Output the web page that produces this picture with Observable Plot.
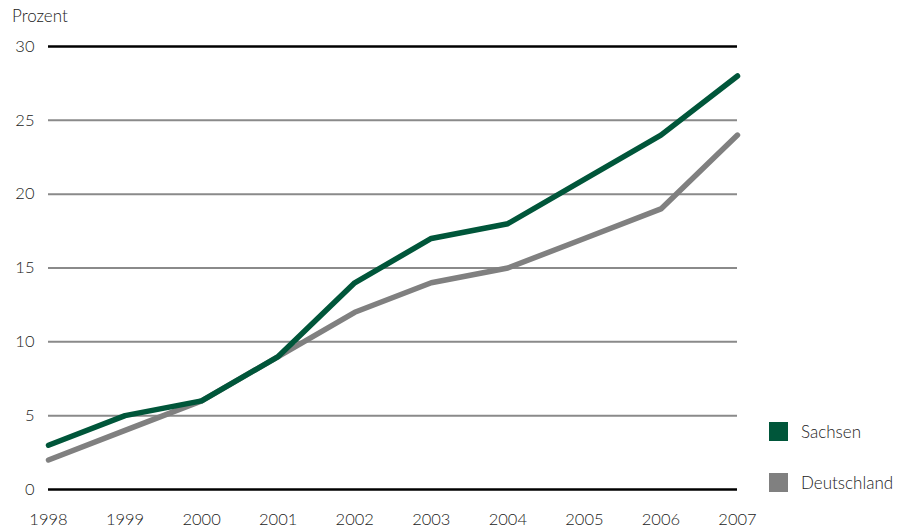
<!DOCTYPE html>
<html>
<head>
<meta charset="utf-8">
<script src="https://cdn.jsdelivr.net/npm/d3@7"></script>
<script src="https://cdn.jsdelivr.net/npm/@observablehq/plot@0.6"></script>
<style>
  html, body { margin: 0; padding: 0; background: #fff; }
  body { width: 897px; height: 528px; overflow: hidden; position: relative; font-family: Lato, "Open Sans", sans-serif; }
  #chart { position: absolute; left: 0; top: 0; }
  .ylab { position: absolute; left: 12px; top: 5px; font-size: 17px; color: #222; font-weight: 300; }
  .legend { position: absolute; left: 769px; font-size: 17px; color: #222; display: flex; align-items: center; font-weight: 300; }
  .legend .sw { width: 19px; height: 19px; margin-right: 13px; }
</style>
</head>
<body>
<div id="chart"></div>
<div class="ylab">Prozent</div>
<div id="leg"></div>
<script>
const years = [1998, 1999, 2000, 2001, 2002, 2003, 2004, 2005, 2006, 2007];
const sachsen = [3, 5, 6, 9, 14, 17, 18, 21, 24, 28];
const deutschland = [2, 4, 6, 9, 12, 14, 15, 17, 19, 24];
const seriesNames = ["Sachsen", "Deutschland"];
const seriesColors = ["#00563a", "#808080"];
const yTicks = [0, 5, 10, 15, 20, 25, 30];

const dS = years.map((y, i) => ({year: y, value: sachsen[i]}));
const dD = years.map((y, i) => ({year: y, value: deutschland[i]}));
const inner = yTicks.filter(t => t !== 0 && t !== 30);
const outer = [0, 30];

const chart = Plot.plot({
  width: 897,
  height: 528,
  marginLeft: 48,
  marginRight: 160,
  marginTop: 46,
  marginBottom: 39,
  style: {fontFamily: "Lato, 'Open Sans', sans-serif", fontSize: "16.5px", fontWeight: 300, color: "#222", background: "#fff"},
  x: {domain: [1998, 2007], ticks: years, tickFormat: d => String(d), tickSize: 0, tickPadding: 24, label: null},
  y: {domain: [0, 30], ticks: yTicks, tickSize: 0, tickPadding: 14, label: null},
  marks: [
    Plot.ruleY(inner, {stroke: "#8a8a8a", strokeWidth: 2}),
    Plot.ruleY(outer, {stroke: "#000", strokeWidth: 2.5}),
    Plot.line(dD, {x: "year", y: "value", stroke: seriesColors[1], strokeWidth: 5.5, strokeLinejoin: "round"}),
    Plot.line(dS, {x: "year", y: "value", stroke: seriesColors[0], strokeWidth: 5.5, strokeLinejoin: "round"})
  ]
});
document.getElementById("chart").appendChild(chart);

const leg = document.getElementById("leg");
const tops = [421, 472];
seriesNames.forEach((n, i) => {
  const div = document.createElement("div");
  div.className = "legend";
  div.style.top = tops[i] + "px";
  div.innerHTML = `<span class="sw" style="background:${seriesColors[i]}"></span><span>${n}</span>`;
  leg.appendChild(div);
});
</script>
</body>
</html>
